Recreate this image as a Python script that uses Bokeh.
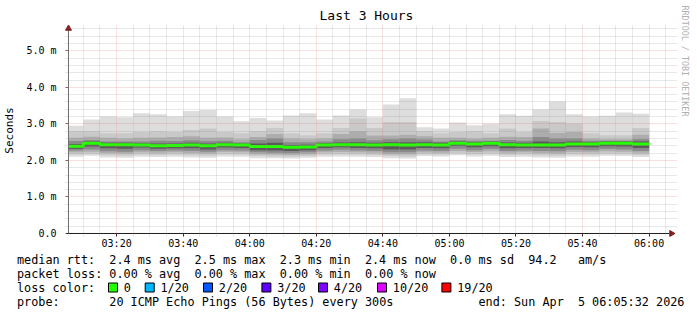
import re
import pandas as pd
from bokeh.plotting import figure
from bokeh.models import (Range1d, FixedTicker, DatetimeTickFormatter, Title,
                          ColumnDataSource)
from bokeh.embed import file_html
from bokeh.resources import INLINE
from bokeh.core.properties import value

FONT = "DejaVu Sans Mono"

# ---------------- data ----------------
start_time = "2026-04-05 03:05:32"
end_time = "2026-04-05 06:05:32"
first_bar_end = "2026-04-05 03:10"
last_bar_end = "2026-04-05 06:00"
step_minutes = 5

# median rtt per 5-minute step (ms)
median_ms = [2.39, 2.47, 2.43, 2.43, 2.42, 2.40, 2.41, 2.42, 2.40, 2.43,
             2.42, 2.38, 2.38, 2.36, 2.37, 2.42, 2.43, 2.43, 2.42, 2.43,
             2.42, 2.43, 2.42, 2.47, 2.45, 2.47, 2.43, 2.42, 2.42, 2.42,
             2.45, 2.45, 2.47, 2.47, 2.45]
# smoke: upper envelope (outer -> inner)
hi1_ms = [2.95, 3.12, 3.20, 3.18, 3.29, 3.26, 3.20, 3.35, 3.38, 3.20,
          3.07, 3.16, 3.09, 3.23, 3.29, 3.12, 3.23, 3.39, 3.18, 3.53,
          3.70, 2.91, 2.87, 3.04, 2.96, 3.00, 3.26, 3.22, 3.39, 3.61,
          3.26, 3.20, 3.22, 3.31, 3.28]
hi2_ms = [2.80, 2.80, 2.74, 2.74, 2.78, 2.80, 2.78, 2.83, 2.87, 2.78,
          2.74, 2.80, 2.89, 2.74, 2.69, 2.74, 2.89, 3.15, 2.89, 3.05,
          3.05, 2.80, 2.74, 2.78, 2.80, 2.74, 2.87, 2.78, 3.08, 3.05,
          3.01, 2.74, 2.69, 2.69, 2.89]
hi3_ms = [2.62, 2.65, 2.62, 2.60, 2.62, 2.63, 2.64, 2.66, 2.62, 2.63,
          2.58, 2.64, 2.72, 2.60, 2.58, 2.60, 2.72, 2.80, 2.68, 2.68,
          2.70, 2.66, 2.62, 2.62, 2.60, 2.62, 2.65, 2.64, 2.87, 2.75,
          2.78, 2.60, 2.58, 2.58, 2.70]
hi4_ms = [2.53, 2.56, 2.52, 2.52, 2.52, 2.54, 2.53, 2.55, 2.53, 2.54,
          2.50, 2.56, 2.60, 2.50, 2.50, 2.52, 2.58, 2.60, 2.55, 2.58,
          2.60, 2.57, 2.52, 2.55, 2.54, 2.54, 2.56, 2.54, 2.64, 2.60,
          2.60, 2.54, 2.54, 2.54, 2.58]
hi5_ms = [2.45, 2.52, 2.48, 2.48, 2.47, 2.46, 2.46, 2.48, 2.46, 2.48,
          2.46, 2.46, 2.48, 2.42, 2.43, 2.47, 2.49, 2.50, 2.48, 2.50,
          2.50, 2.50, 2.48, 2.52, 2.50, 2.52, 2.49, 2.48, 2.52, 2.50,
          2.52, 2.50, 2.52, 2.52, 2.52]
# smoke: lower envelope (inner -> outer)
lo5_ms = [2.32, 2.38, 2.33, 2.32, 2.35, 2.32, 2.33, 2.33, 2.30, 2.35,
          2.34, 2.28, 2.27, 2.26, 2.28, 2.34, 2.36, 2.34, 2.33, 2.30,
          2.30, 2.34, 2.33, 2.40, 2.36, 2.39, 2.33, 2.34, 2.34, 2.33,
          2.37, 2.36, 2.39, 2.38, 2.34]
lo4_ms = [2.27, 2.30, 2.25, 2.24, 2.28, 2.26, 2.27, 2.26, 2.24, 2.28,
          2.27, 2.22, 2.21, 2.20, 2.22, 2.27, 2.29, 2.27, 2.26, 2.22,
          2.22, 2.27, 2.26, 2.32, 2.28, 2.31, 2.26, 2.27, 2.26, 2.25,
          2.29, 2.28, 2.31, 2.30, 2.26]
lo3_ms = [2.22, 2.24, 2.20, 2.19, 2.22, 2.21, 2.22, 2.20, 2.19, 2.23,
          2.22, 2.17, 2.16, 2.15, 2.17, 2.22, 2.23, 2.22, 2.21, 2.17,
          2.17, 2.22, 2.21, 2.26, 2.23, 2.25, 2.21, 2.22, 2.20, 2.19,
          2.23, 2.22, 2.25, 2.24, 2.21]
lo2_ms = [2.16, 2.18, 2.14, 2.13, 2.16, 2.15, 2.16, 2.14, 2.13, 2.17,
          2.16, 2.12, 2.11, 2.10, 2.12, 2.16, 2.17, 2.16, 2.15, 2.12,
          2.11, 2.17, 2.16, 2.20, 2.17, 2.19, 2.15, 2.16, 2.14, 2.13,
          2.17, 2.16, 2.19, 2.18, 2.15]
lo1_ms = [2.10, 2.13, 2.08, 2.07, 2.10, 2.09, 2.10, 2.08, 2.07, 2.11,
          2.10, 2.06, 2.06, 2.05, 2.07, 2.10, 2.11, 2.10, 2.09, 2.06,
          2.05, 2.12, 2.11, 2.14, 2.11, 2.13, 2.09, 2.10, 2.08, 2.07,
          2.11, 2.10, 2.13, 2.12, 2.09]

ytick_values = [0, 1, 2, 3, 4, 5]
ytick_labels = ["0.0", "1.0 m", "2.0 m", "3.0 m", "4.0 m", "5.0 m"]
yminor_step = 0.2
y_max = 5.5
xmajor_first, xmajor_last = "2026-04-05 03:20", "2026-04-05 06:00"
xminor_first, xminor_last = "2026-04-05 03:10", "2026-04-05 06:05"

title_text = "Last 3 Hours"
ylabel_text = "Seconds"
watermark_text = "RRDTOOL / TOBI OETIKER"
legend_line1 = "median rtt:  2.4 ms avg  2.5 ms max  2.3 ms min  2.4 ms now  0.0 ms sd  94.2   am/s"
legend_line2 = "packet loss: 0.00 % avg  0.00 % max  0.00 % min  0.00 % now"
legend_line3 = "loss color:"
legend_line4 = "probe:       20 ICMP Echo Pings (56 Bytes) every 300s            end: Sun Apr  5 06:05:32 2026"
loss_labels = ["0", "1/20", "2/20", "3/20", "4/20", "10/20", "19/20"]
loss_colors = ["#26ff00", "#00b8ff", "#0059ff", "#5e00ff", "#7e00ff", "#dd00ff", "#ff0000"]
median_color = loss_colors[0]

# ---------------- layout constants (pixels) ----------------
PX_PER_MIN = 600 / 180.0
PX_PER_MS = 36.54
PAD_L, PAD_B = 3, 3          # small frame margin so the axis arrows are not clipped
PAD_T, PAD_R = 8, 10

t0 = pd.Timestamp(start_time)
t1 = pd.Timestamp(end_time)
def px_min(px):
    return pd.Timedelta(minutes=px / PX_PER_MIN)
def ms(ts):
    return pd.Timestamp(ts).value / 1e6

x_lo = t0 - px_min(PAD_L)
x_hi = t1 + px_min(PAD_R)
y_lo = -PAD_B / PX_PER_MS
y_hi = y_max + PAD_T / PX_PER_MS

bar_end = pd.date_range(first_bar_end, last_bar_end, freq=f"{step_minutes}min")
bar_start = (bar_end - pd.Timedelta(minutes=step_minutes)).where(
    bar_end - pd.Timedelta(minutes=step_minutes) > t0, t0)

p = figure(width=697, height=252, x_axis_type="datetime",
           x_range=Range1d(x_lo, x_hi), y_range=Range1d(y_lo, y_hi),
           toolbar_location=None, output_backend="svg",
           min_border_left=64, min_border_right=20, min_border_top=24,
           min_border_bottom=16)
p.outline_line_color = None
p.background_fill_color = "white"
p.border_fill_color = "white"

layers = [(lo1_ms, hi1_ms, "#dddddd"), (lo2_ms, hi2_ms, "#c9c9c9"),
          (lo3_ms, hi3_ms, "#adadad"), (lo4_ms, hi4_ms, "#8a8a8a"),
          (lo5_ms, hi5_ms, "#5a5a5a")]
for lo, hi, col in layers:
    src = ColumnDataSource(dict(left=bar_start, right=bar_end, bottom=lo, top=hi))
    p.quad(left="left", right="right", bottom="bottom", top="top", source=src,
           fill_color=col, line_color=None)

step_x = list(bar_start) + [bar_end[-1]]
step_y = median_ms + [median_ms[-1]]
p.step(x=step_x, y=step_y, mode="after", line_color=median_color, line_width=3)

major_x = [ms(t) for t in pd.date_range(xmajor_first, xmajor_last, freq="20min")]
minor_x = [ms(t) for t in pd.date_range(xminor_first, xminor_last, freq="5min")]
minor_x = [m for m in minor_x if m not in major_x]
p.xaxis.ticker = FixedTicker(ticks=major_x, minor_ticks=minor_x)
p.xaxis.formatter = DatetimeTickFormatter(minutes="%H:%M", hourmin="%H:%M", hours="%H:%M",
                                          minsec="%H:%M", seconds="%H:%M")
n_minor = int(round(y_max / yminor_step))
minor_y = [round(i * yminor_step, 3) for i in range(1, n_minor + 1)]
minor_y = [m for m in minor_y if m not in ytick_values]
p.yaxis.ticker = FixedTicker(ticks=ytick_values, minor_ticks=minor_y)
p.yaxis.major_label_overrides = {v: l for v, l in zip(ytick_values, ytick_labels)}
p.ygrid[0].ticker = FixedTicker(ticks=[v for v in ytick_values if v != 0], minor_ticks=minor_y)

for ax in (p.xaxis[0], p.yaxis[0]):
    ax.major_label_text_font = FONT
    ax.major_label_text_font_size = "10px"
    ax.major_label_text_color = "black"
    ax.axis_line_color = None
    ax.major_tick_in = 3
    ax.major_tick_out = 0
    ax.minor_tick_in = 0
    ax.minor_tick_out = 0
p.xaxis.major_tick_line_color = "#1f1f1f"
p.yaxis.major_tick_line_color = "#6f6f6f"
p.xaxis.major_label_standoff = 1
p.yaxis.major_label_standoff = 9
p.yaxis.axis_label = ylabel_text
p.yaxis.axis_label_text_font = FONT
p.yaxis.axis_label_text_font_size = "11px"
p.yaxis.axis_label_text_font_style = "normal"
p.yaxis.axis_label_text_color = "black"
p.yaxis.axis_label_standoff = 7

for g in (p.xgrid[0], p.ygrid[0]):
    g.level = "overlay"
    g.grid_line_color = "#de4f4f"
    g.grid_line_alpha = 0.35
    g.grid_line_dash = "1 1"
    g.minor_grid_line_color = "#8f8f8f"
    g.minor_grid_line_alpha = 0.4
    g.minor_grid_line_dash = "1 1"
p.xgrid[0].bounds = (0, y_max)
p.ygrid[0].bounds = (ms(t0), ms(t1))

# visible axis lines at the data origin, and the axis arrows
arrow_col = "#801f1f"
ax_x = p.segment(x0=[t0 - px_min(2)], y0=[0], x1=[t1 + px_min(2)], y1=[0],
                 line_color="#1f1f1f", line_width=1)
ax_y = p.segment(x0=[t0], y0=[0], x1=[t0], y1=[y_max + 3 / PX_PER_MS],
                 line_color="#6f6f6f", line_width=1)
ar_y = p.scatter(x=[t0], y=[y_max + 4 / PX_PER_MS], marker="triangle", size=6,
                 fill_color=arrow_col, line_color=arrow_col)
ar_x = p.scatter(x=[t1 + px_min(4)], y=[0], marker="triangle", angle=-1.5708, size=6,
                 fill_color=arrow_col, line_color=arrow_col)
for r in (ax_x, ax_y, ar_y, ar_x):
    r.level = "overlay"

# title and watermark
p.title.text = title_text
p.title.text_font = FONT
p.title.text_font_size = "13px"
p.title.text_font_style = "normal"
p.title.text_color = "black"
p.title.align = "left"
p.title.offset = 254
p.title.standoff = 3
p.add_layout(Title(text=watermark_text, align="left", offset=-19, text_font=FONT,
                   text_font_size="8.4px", text_font_style="normal",
                   text_color="#b0b0b0", standoff=5), "right")

# ---------------- legend area ----------------
q = figure(width=697, height=63, x_range=Range1d(0, 697), y_range=Range1d(63, 0),
           toolbar_location=None, output_backend="svg", x_axis_type=None,
           y_axis_type=None, min_border=0)
q.outline_line_color = None
q.grid.visible = False

x0, cw = 16.5, 7.1
line_y = [7, 21, 35, 49]
seg_x, seg_y, seg_t = [], [], []
for line, ly in zip([legend_line1, legend_line2, legend_line3, legend_line4], line_y):
    for m in re.finditer(r"\S+(?: \S+)*", line):
        seg_x.append(x0 + m.start() * cw)
        seg_y.append(ly)
        seg_t.append(m.group())
label_px = [123.3, 160, 218.3, 276.7, 333.3, 392.3, 456.7]
for lx, lt in zip(label_px, loss_labels):
    seg_x.append(lx)
    seg_y.append(line_y[2])
    seg_t.append(lt)
q.text(x=seg_x, y=seg_y, text=seg_t, text_font=value(FONT), text_font_size="11.8px",
       text_baseline="middle", text_align="left", text_color="black")
q.rect(x=[lx - 10.8 for lx in label_px], y=[line_y[2]] * len(label_px), width=9, height=9,
       fill_color=loss_colors, line_color="black", line_width=1)

open("out.html", "w").write(file_html([p, q], INLINE))
